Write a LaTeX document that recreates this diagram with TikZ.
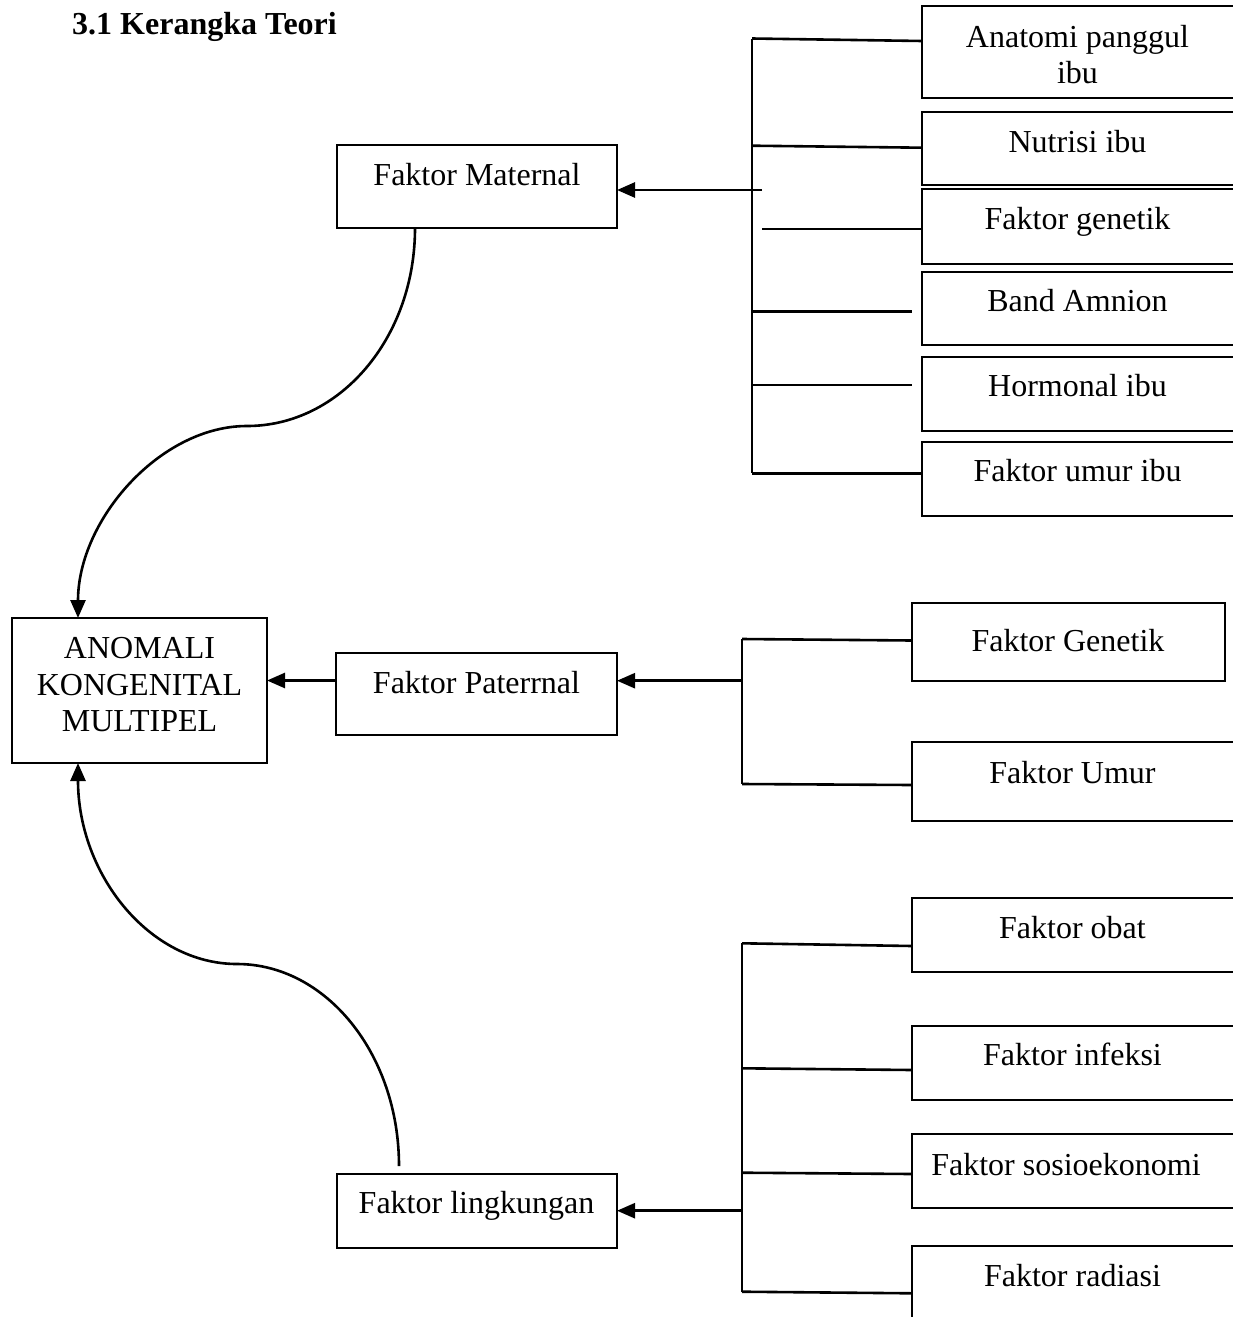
\documentclass[tikz,border=0pt]{standalone}
\usepackage{fontspec}
\setmainfont{Liberation Serif}
\usetikzlibrary{arrows.meta}
\begin{document}
\begin{tikzpicture}[x=1pt,y=-1pt,
  box/.style={draw, line width=2.4pt, rectangle, inner sep=0pt, outer sep=0pt, anchor=north west},
  lbl/.style={inner sep=0pt, anchor=base, font=\fontsize{32}{36.7}\selectfont},
  ln/.style={line width=2.6pt},
  arr/.style={line width=2.6pt, -{Triangle[length=18pt,width=15pt]}}]
\useasboundingbox (0,0) rectangle (1233,1317);
\clip (0,0) rectangle (1233,1317);
\fill[white] (0,0) rectangle (1233,1317);

% title
\node[inner sep=0pt, anchor=base west, font=\fontsize{32}{36.7}\selectfont\bfseries] (title) at (72,34) {3.1 Kerangka Teori};

% main boxes
\node[box, minimum width=280pt, minimum height=83pt] (mat) at (337,145) {};
\node[box, minimum width=281pt, minimum height=82pt] (pat) at (336,653) {};
\node[box, minimum width=280pt, minimum height=74pt] (ling) at (337,1174) {};
\node[box, minimum width=255pt, minimum height=145pt] (anom) at (12,618) {};

\node[lbl] (matT) at (477,185) {Faktor Maternal};
\node[lbl] (patT) at (476.5,693.3) {Faktor Paterrnal};
\node[lbl] (lingT) at (476.5,1213.3) {Faktor lingkungan};
\node[lbl] (anomT1) at (139.5,658.3) {ANOMALI};
\node[lbl] (anomT2) at (139.5,695) {KONGENITAL};
\node[lbl] (anomT3) at (139.5,731.7) {MULTIPEL};

% maternal factor boxes
\node[box, minimum width=318pt, minimum height=92pt] (anat) at (922,6) {};
\node[box, minimum width=318pt, minimum height=73pt] (nut) at (922,112) {};
\node[box, minimum width=318pt, minimum height=75pt] (gen) at (922,189) {};
\node[box, minimum width=318pt, minimum height=73pt] (band) at (922,272) {};
\node[box, minimum width=318pt, minimum height=74pt] (horm) at (922,357) {};
\node[box, minimum width=318pt, minimum height=74pt] (umuribu) at (922,442) {};

\node[lbl] (anatT1) at (1077.5,47) {Anatomi panggul};
\node[lbl] (anatT2) at (1077.5,83.7) {ibu};
\node[lbl] (nutT) at (1077.5,152.7) {Nutrisi ibu};
\node[lbl] (genT) at (1077.5,229) {Faktor genetik};
\node[lbl] (bandT) at (1077.5,311.7) {Band Amnion};
\node[lbl] (hormT) at (1077.5,396.7) {Hormonal ibu};
\node[lbl] (umuribuT) at (1077.5,481.7) {Faktor umur ibu};

% paternal factor boxes
\node[box, minimum width=313pt, minimum height=78pt] (pgen) at (912,603) {};
\node[box, minimum width=328pt, minimum height=79pt] (pumur) at (912,742) {};
\node[lbl] (pgenT) at (1068,651.7) {Faktor Genetik};
\node[lbl] (pumurT) at (1072.5,783.3) {Faktor Umur};

% environmental factor boxes
\node[box, minimum width=328pt, minimum height=74pt] (obat) at (912,898) {};
\node[box, minimum width=328pt, minimum height=74pt] (inf) at (912,1026) {};
\node[box, minimum width=328pt, minimum height=74pt] (sos) at (912,1134) {};
\node[box, minimum width=328pt, minimum height=100pt] (rad) at (912,1246) {};
\node[lbl] (obatT) at (1072.5,938.3) {Faktor obat};
\node[lbl] (infT) at (1072.5,1065) {Faktor infeksi};
\node[lbl] (sosT) at (1066,1175) {Faktor sosioekonomi};
\node[lbl] (radT) at (1072.5,1286.7) {Faktor radiasi};

% maternal bracket
\coordinate (mTop) at (752,38.5);
\coordinate (mBot) at (752,473.3);
\coordinate (mNut) at (752,145.7);
\coordinate (mArr) at (762,190);
\coordinate (mGen) at (762,229);
\coordinate (mBand) at (752,311.7);
\coordinate (mHorm) at (752,385);
\coordinate (bandEnd) at (912,311.7);
\coordinate (hormEnd) at (912,385);
\draw[ln] (mTop) -- (mBot);
\draw[ln] (mTop) -- (anat.west |- 0,41);
\draw[ln] (mNut) -- (nut.west |- 0,147.7);
\draw[ln] (mGen) -- (gen.west |- 0,229);
\draw[ln] (mBand) -- (bandEnd);
\draw[ln] (mHorm) -- (hormEnd);
\draw[ln] (mBot) -- (umuribu.west |- 0,473.3);
\draw[arr] (mArr) -- (mat.east |- 0,190);

% paternal bracket
\coordinate (pTop) at (742,639);
\coordinate (pBot) at (742,784);
\coordinate (pArr) at (742,680.7);
\draw[ln] (pTop) -- (pBot);
\draw[ln] (pTop) -- (pgen.west |- 0,640.5);
\draw[ln] (pBot) -- (pumur.west |- 0,785);
\draw[arr] (pArr) -- (pat.east |- 0,680.7);
\draw[arr] (pat.west |- 0,680.5) -- (anom.east |- 0,680.5);

% environmental bracket
\coordinate (lTop) at (742,943.3);
\coordinate (lBot) at (742,1291.7);
\coordinate (lInf) at (742,1068.3);
\coordinate (lSos) at (742,1172.7);
\coordinate (lArr) at (742,1210.7);
\draw[ln] (lTop) -- (lBot);
\draw[ln] (lTop) -- (obat.west |- 0,946);
\draw[ln] (lInf) -- (inf.west |- 0,1070);
\draw[ln] (lSos) -- (sos.west |- 0,1174);
\draw[ln] (lBot) -- (rad.west |- 0,1293.3);
\draw[arr] (lArr) -- (ling.east |- 0,1210.7);

% curved arrows into the central box
\coordinate (cTopStart) at (415,228);
\coordinate (cTopMid) at (247,426);
\coordinate (cBotStart) at (399,1166);
\coordinate (cBotMid) at (237,964);
\draw[arr] (cTopStart) .. controls (415,338) and (340,426) .. (cTopMid)
  .. controls (160,426) and (78,520) .. (anom.north west -| 78,0);
\draw[arr] (cBotStart) .. controls (399,1054) and (326,964) .. (cBotMid)
  .. controls (149,964) and (78,874) .. (anom.south west -| 78,0);
\end{tikzpicture}
\end{document}
